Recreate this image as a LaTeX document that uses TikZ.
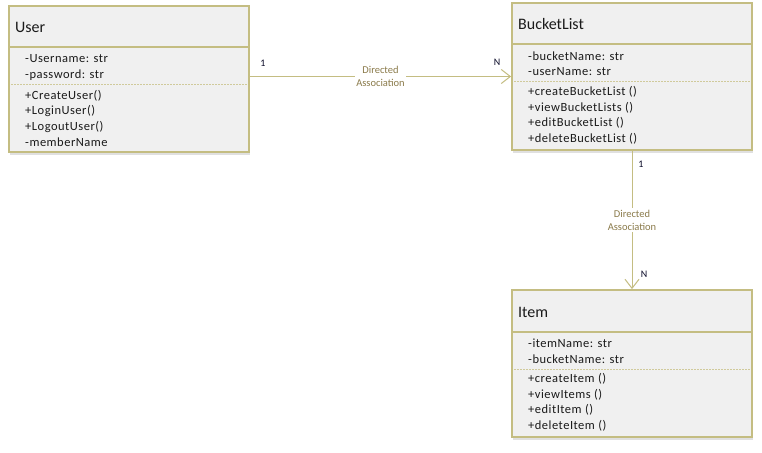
\documentclass[tikz,border=0pt]{standalone}
\usepackage{fontspec}
\setmainfont{Carlito}
\usetikzlibrary{arrows.meta,positioning,shadows}
\definecolor{umlborder}{HTML}{C4BD82}
\definecolor{umlfill}{HTML}{F0F0F0}
\definecolor{umltext}{HTML}{1A1A1A}
\definecolor{assoctext}{HTML}{8B7B4B}
\definecolor{multtext}{HTML}{0A0A28}
\tikzset{
  classbox/.style={draw=umlborder,fill=umlfill,line width=1.8pt,
                   inner sep=0pt,minimum width=240pt,minimum height=146pt,
                   drop shadow={shadow xshift=1pt,shadow yshift=-3pt,fill=black!30,opacity=0.4}},
  classline/.style={draw=umlborder,line width=1.6pt},
  splitline/.style={draw=umlborder!80,line width=0.9pt,dash pattern=on 1.5pt off 1.5pt},
  classname/.style={anchor=west,inner sep=0pt,text=umltext,font=\fontsize{16}{18}\selectfont},
  member/.style={anchor=west,inner sep=0pt,text=umltext,
                 font=\fontsize{12.5}{14}\selectfont\addfontfeature{LetterSpace=4}},
  assoc/.style={draw=umlborder,line width=1pt,-{Straight Barb[length=9pt,width=14pt,line width=1pt]}},
  assoclabel/.style={fill=white,inner sep=1.5pt,align=center,text=assoctext,
                     font=\fontsize{10.5}{13}\selectfont},
  mult/.style={inner sep=0pt,text=multtext,font=\fontsize{10}{11}\selectfont}
}
\begin{document}
\begin{tikzpicture}[x=1pt,y=-1pt]
  \useasboundingbox[fill=white] (0,0) rectangle (762,452);

  % class boxes
  \node[classbox] (user) at (129,79) {};
  \node[classbox,minimum height=147pt] (bucket) at (632,76.5) {};
  \node[classbox,minimum height=147pt] (item) at (632,363.5) {};

  % User
  \draw[classline] (9,47) -- (249,47);
  \node[classname] (usertitle) at (15,27) {User};
  \foreach \txt [count=\i] in {-Username: str,-password: str}
    \node[member] at (25,{59+16*(\i-1)}) {\txt};
  \draw[splitline] (11,84) -- (247,84);
  \foreach \txt [count=\i] in {+CreateUser(),+LoginUser(),+LogoutUser(),-memberName}
    \node[member] at (25,{96+15.4*(\i-1)}) {\txt};

  % BucketList
  \draw[classline] (512,44) -- (752,44);
  \node[classname] (buckettitle) at (518,24) {BucketList};
  \foreach \txt [count=\i] in {-bucketName: str,-userName: str}
    \node[member] at (528,{56+16*(\i-1)}) {\txt};
  \draw[splitline] (514,81) -- (750,81);
  \foreach \txt [count=\i] in {+createBucketList (),+viewBucketLists (),+editBucketList (),+deleteBucketList ()}
    \node[member] at (528,{92+15.6*(\i-1)}) {\txt};

  % Item
  \draw[classline] (512,332) -- (752,332);
  \node[classname] (itemtitle) at (518,312) {Item};
  \foreach \txt [count=\i] in {-itemName: str,-bucketName: str}
    \node[member] at (528,{343+16*(\i-1)}) {\txt};
  \draw[splitline] (514,369) -- (750,369);
  \foreach \txt [count=\i] in {+createItem (),+viewItems (),+editItem (),+deleteItem ()}
    \node[member] at (528,{379+15.6*(\i-1)}) {\txt};

  % associations
  \draw[assoc] (bucket.west -| user.east) -- (bucket.west)
    node[pos=0.5,assoclabel] (assocone) {Directed\\Association};
  \node[mult] (multuser) at (263,63) {1};
  \node[mult] (multbucket) at (497,62) {N};

  \draw[assoc] (bucket.south) -- (item.north)
    node[pos=0.5,assoclabel] (assoctwo) {Directed\\Association};
  \node[mult] (multbucketb) at (641,164) {1};
  \node[mult] (multitem) at (644,274) {N};
\end{tikzpicture}
\end{document}
